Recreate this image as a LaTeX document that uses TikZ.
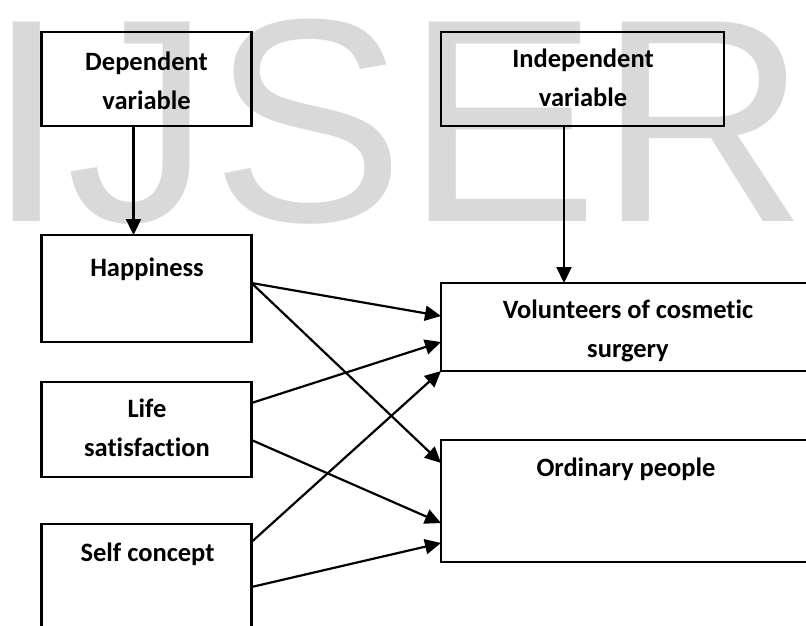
\documentclass[tikz,border=0pt]{standalone}
\usepackage{fontspec}
\setmainfont{Carlito}[Ligatures=NoCommon]
\newfontfamily\wmfont{Liberation Sans}
\usetikzlibrary{arrows.meta}
\definecolor{wmgray}{RGB}{217,217,217}
\newcommand\mystrut{\rule{0pt}{22pt}}
\begin{document}
\begin{tikzpicture}[x=1pt,y=-1pt,
  box/.style={draw, line width=2.2pt, inner sep=0pt, outer sep=0pt},
  lbl/.style={font=\bfseries\fontsize{26.5}{39}\selectfont, align=center, anchor=north, inner sep=0pt},
  conn/.style={line width=2.2pt, -{Triangle[length=16pt,width=15pt]}}]
\useasboundingbox (0,0) rectangle (806,625);
\clip (0,0) rectangle (806,625);
% watermark
\node[font=\wmfont\fontsize{290}{290}\selectfont, text=wmgray, anchor=base west, inner sep=0pt] (wm) at (-14,221) {IJSER};
% boxes
\node[box, minimum width=210pt, minimum height=94pt] (dep) at (146.5,79) {};
\node[box, minimum width=283pt, minimum height=94pt] (ind) at (582.5,79) {};
\node[box, minimum width=210pt, minimum height=107pt] (hap) at (146.5,288.5) {};
\node[box, minimum width=210pt, minimum height=95pt] (life) at (146.5,429.5) {};
\node[box, minimum width=210pt, minimum height=130pt] (self) at (146.5,589) {};
\node[box, minimum width=374pt, minimum height=88pt] (vol) at (628,327) {};
\node[box, minimum width=374pt, minimum height=122pt] (ord) at (628,501) {};
% labels
\node[lbl] (deptxt) at (146.5,48) {\mystrut Dependent\\variable};
\node[lbl] (indtxt) at (583,45) {\mystrut Independent\\variable};
\node[lbl] (haptxt) at (147,254) {\mystrut Happiness};
\node[lbl] (lifetxt) at (147,395) {\mystrut Life\\satisfaction};
\node[lbl] (selftxt) at (147.5,539) {\mystrut Self concept};
\node[lbl] (voltxt) at (628,296) {\mystrut Volunteers of cosmetic\\surgery};
\node[lbl] (ordtxt) at (626,454) {\mystrut Ordinary people};
% connectors
\draw[conn] ([xshift=-13pt]dep.south) -- ([xshift=-13pt]dep.south |- hap.north);
\draw[conn] ([xshift=-18.5pt]ind.south) -- ([xshift=-18.5pt]ind.south |- vol.north);
\draw[conn] ([yshift=-48pt]hap.north east) -- ([yshift=-33pt]vol.north west);
\draw[conn] ([yshift=-48pt]hap.north east) -- ([yshift=-23pt]ord.north west);
\draw[conn] ([yshift=-21pt]life.north east) -- ([yshift=-59pt]vol.north west);
\draw[conn] ([yshift=-58pt]life.north east) -- ([yshift=-83pt]ord.north west);
\draw[conn] ([yshift=-18pt]self.north east) -- (vol.south west);
\draw[conn] ([yshift=-63pt]self.north east) -- ([yshift=-103pt]ord.north west);
\end{tikzpicture}
\end{document}
